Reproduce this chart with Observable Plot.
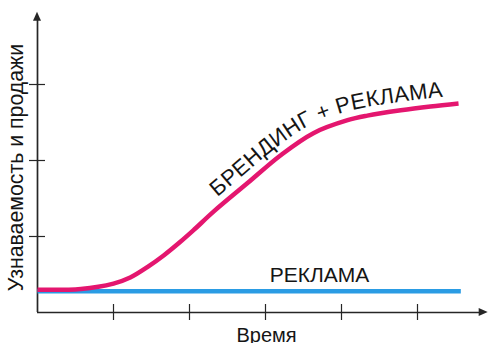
<!DOCTYPE html>
<html><head><meta charset="utf-8">
<script src="https://cdn.jsdelivr.net/npm/d3@7"></script>
<script src="https://cdn.jsdelivr.net/npm/@observablehq/plot@0.6"></script>
<style>html,body{margin:0;padding:0;background:#fff;} #chart{width:488px;height:343px;overflow:hidden}</style>
</head><body><div id="chart"></div>
<script>
// ---- data ----
const xTicks = [1, 2, 3, 4, 5];
const yTicks = [1, 2, 3];
const xAxisEnd = 5.93;
const yAxisEnd = 3.95;
const xLabel = "Время";
const yLabel = "Узнаваемость и продажи";

const adX = [0, 5.57];
const adY = [0.28, 0.28];
const adLabel = "РЕКЛАМА";
const adLabelX = 3.71;
const adLabelY = 0.40;

const brandX = [0, 0.57, 1.0, 1.22, 1.45, 1.66, 1.88, 2.05, 2.32, 2.76, 3.20, 3.63, 4.08, 4.34, 4.78, 5.17, 5.54];
const brandY = [0.30, 0.31, 0.38, 0.46, 0.60, 0.75, 0.93, 1.08, 1.33, 1.70, 2.07, 2.36, 2.53, 2.59, 2.66, 2.71, 2.75];
const brandLabel = "БРЕНДИНГ + РЕКЛАМА";
const brandLabelStart = 2.44;

// ---- styles ----
const axisColor = "#262626";
const pink = "#e4166f";
const blue = "#2a9ce4";
const font = "'Liberation Sans', Arial, Helvetica, sans-serif";

const adData = adX.map((x, i) => ({x, y: adY[i]}));
const brandData = brandX.map((x, i) => ({x, y: brandY[i]}));

function overlay(index, scales, values, dimensions, context) {
  const {x, y} = scales;
  const g = d3.create("svg:g");
  // arrowheads
  const tx = x(0), ty = y(yAxisEnd);
  g.append("path").attr("d", `M${tx},${ty}L${tx - 4},${ty + 9}L${tx + 4},${ty + 9}Z`).attr("fill", axisColor);
  const ax = x(xAxisEnd), ay = y(0);
  g.append("path").attr("d", `M${ax},${ay}L${ax - 9},${ay - 4}L${ax - 9},${ay + 4}Z`).attr("fill", axisColor);
  // curved label path, offset above the brand curve
  const px = brandX.map(d => x(d));
  const py = brandY.map(d => y(d));
  const k = brandX.findIndex(d => d >= brandLabelStart);
  const t = (brandLabelStart - brandX[k - 1]) / (brandX[k] - brandX[k - 1]);
  const pts = [[x(brandLabelStart), py[k - 1] + t * (py[k] - py[k - 1])]];
  for (let i = k; i < brandX.length; i++) pts.push([px[i], py[i]]);
  const off = 8;
  const opts = pts.map((p, i) => {
    const a = pts[Math.max(0, i - 1)], b = pts[Math.min(pts.length - 1, i + 1)];
    let dx = b[0] - a[0], dy = b[1] - a[1];
    const L = Math.hypot(dx, dy); dx /= L; dy /= L;
    return [p[0] + dy * off, p[1] - dx * off];
  });
  const d = d3.line().curve(d3.curveCatmullRom)(opts);
  const id = "brandPath";
  g.append("defs").append("path").attr("id", id).attr("d", d);
  g.append("text")
    .attr("font-size", 22)
    .attr("letter-spacing", 0.4)
    .attr("font-family", font)
    .attr("text-anchor", "start")
    .attr("fill", "#151515")
    .append("textPath")
    .attr("href", "#" + id)
    .attr("startOffset", 0)
    .text(brandLabel);
  return g.node();
}

const plot = Plot.plot({
  width: 488,
  height: 343,
  marginLeft: 37,
  marginRight: 0,
  marginTop: 0,
  marginBottom: 31,
  x: {domain: [0, 451 / 76], axis: null},
  y: {domain: [0, 312 / 76], axis: null},
  style: {fontFamily: font, background: "#fff", color: "#151515"},
  marks: [
    Plot.ruleY([0], {x1: 0, x2: xAxisEnd - 0.08, stroke: axisColor, strokeWidth: 1.7}),
    Plot.ruleX([0], {y1: 0, y2: yAxisEnd - 0.08, stroke: axisColor, strokeWidth: 1.7}),
    Plot.ruleX(xTicks, {y1: 0, y2: 0, insetTop: 8, insetBottom: 8, stroke: axisColor, strokeWidth: 1.2}),
    Plot.ruleY(yTicks, {x1: 0, x2: 0, insetLeft: 8, insetRight: 8, stroke: axisColor, strokeWidth: 1.2}),
    Plot.line(adData, {x: "x", y: "y", stroke: blue, strokeWidth: 4.5, strokeLinecap: "butt"}),
    Plot.line(brandData, {x: "x", y: "y", stroke: pink, strokeWidth: 4.5, curve: "catmull-rom", strokeLinecap: "butt"}),
    Plot.text([adLabel], {x: adLabelX, y: adLabelY, text: d => d, fontSize: 21, lineAnchor: "bottom", fill: "#151515"}),
    Plot.text([yLabel], {frameAnchor: "left", text: d => d, rotate: -90, dx: -21, dy: 11, textAnchor: "middle", fontSize: 21.3, fill: "#151515"}),
    Plot.text([xLabel], {frameAnchor: "bottom", text: d => d, dx: 3.5, dy: 15, lineAnchor: "top", fontSize: 20, fill: "#151515"}),
    overlay
  ]
});
document.getElementById("chart").appendChild(plot);
</script>
</body></html>
